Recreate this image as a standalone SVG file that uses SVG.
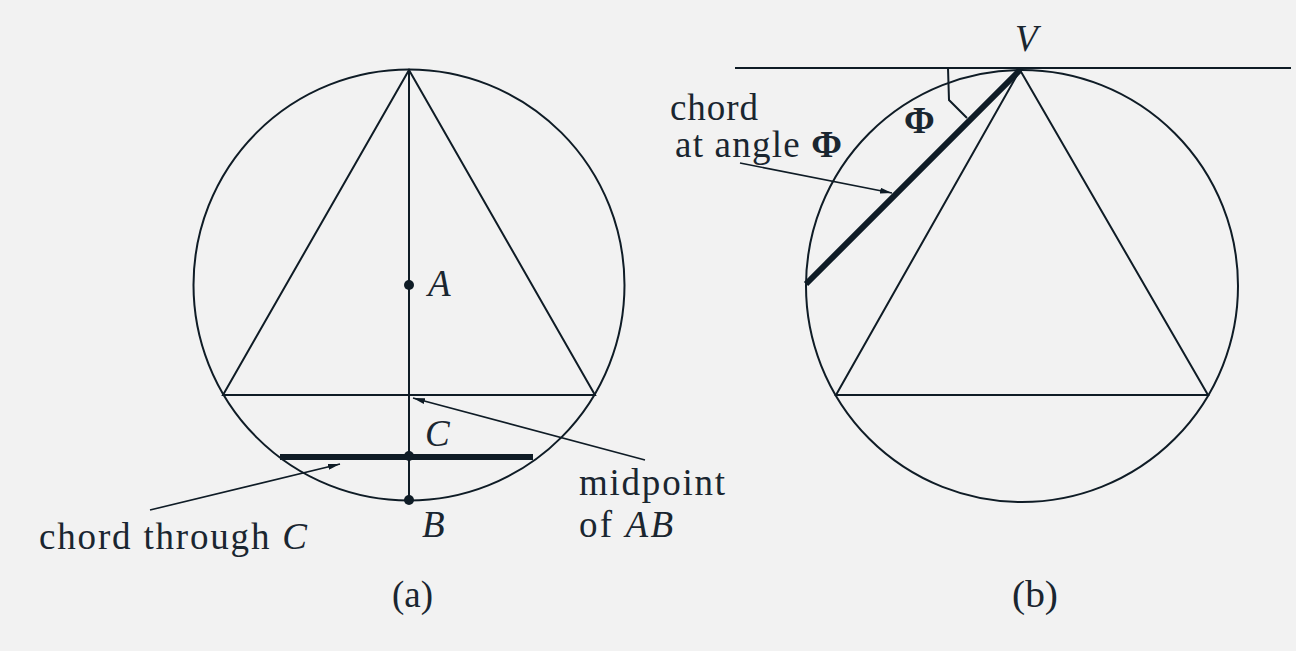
<svg xmlns="http://www.w3.org/2000/svg" width="1296" height="651" viewBox="0 0 1296 651">
<defs>
<style>
.ln{fill:none;stroke:#0f1c26;stroke-width:2}
.thick{fill:none;stroke:#0f1c26;stroke-width:6}
.arr{fill:none;stroke:#0f1c26;stroke-width:1.6}
.dot{fill:#0f1c26}
.tx{font-family:'Liberation Serif','DejaVu Serif',serif;font-size:37px;fill:#1a2630}
.it{font-style:italic}
</style>
<marker id="ah" viewBox="0 0 12 6" refX="12" refY="3" markerWidth="12" markerHeight="6" markerUnits="userSpaceOnUse" orient="auto">
<path d="M0,0 L12,3 L0,6 Z" fill="#0f1c26"/>
</marker>
</defs>
<rect width="1296" height="651" fill="#f2f2f2"/>

<g id="panel-a">
<g id="circle-a"><circle class="ln" cx="409" cy="285" r="215.5"/></g>
<g id="triangle-a"><polygon class="ln" points="409,70 223,395 595,395"/></g>
<g id="axis-a"><line class="ln" x1="409" y1="70" x2="409" y2="500"/></g>
<g id="chord-c"><line class="thick" x1="280" y1="457" x2="533" y2="457"/></g>
<g id="point-A"><circle class="dot" cx="409" cy="285" r="5"/><text class="tx it" font-family="Liberation Serif, DejaVu Serif, serif" x="428" y="296">A</text></g>
<g id="point-C"><circle class="dot" cx="409" cy="456" r="5"/><text class="tx it" font-family="Liberation Serif, DejaVu Serif, serif" x="425" y="446">C</text></g>
<g id="point-B"><circle class="dot" cx="409" cy="500" r="5"/><text class="tx it" font-family="Liberation Serif, DejaVu Serif, serif" x="422" y="537">B</text></g>
<g id="label-chord-c"><text class="tx" font-family="Liberation Serif, DejaVu Serif, serif" x="39" y="549" textLength="268" lengthAdjust="spacing">chord through <tspan class="it">C</tspan></text></g>
<g id="label-midpoint"><text class="tx" font-family="Liberation Serif, DejaVu Serif, serif" x="579" y="495" textLength="146" lengthAdjust="spacing">midpoint</text><text class="tx" font-family="Liberation Serif, DejaVu Serif, serif" x="579" y="537" textLength="94" lengthAdjust="spacing">of <tspan class="it">AB</tspan></text></g>
<g id="caption-a"><text class="tx" font-family="Liberation Serif, DejaVu Serif, serif" x="392" y="607" textLength="41" lengthAdjust="spacingAndGlyphs">(a)</text></g>
</g>

<g id="panel-b">
<g id="tangent"><line class="ln" x1="735" y1="68" x2="1291" y2="68"/></g>
<g id="circle-b"><circle class="ln" cx="1022" cy="286" r="216"/></g>
<g id="triangle-b"><polygon class="ln" points="1020,70 836,395 1208,395"/></g>
<g id="chord-phi"><line class="thick" x1="1020" y1="70" x2="806" y2="284"/></g>
<g id="angle-mark"><polyline class="ln" points="948,68 949,100 967,118"/><text class="tx" font-family="Liberation Serif, DejaVu Serif, serif" x="904" y="133" font-size="34" font-weight="bold">Φ</text></g>
<g id="point-V"><text class="tx it" font-family="Liberation Serif, DejaVu Serif, serif" x="1015" y="51">V</text></g>
<g id="label-chord-phi"><text class="tx" font-family="Liberation Serif, DejaVu Serif, serif" x="670" y="120" textLength="88" lengthAdjust="spacing">chord</text><text class="tx" font-family="Liberation Serif, DejaVu Serif, serif" x="675" y="157" textLength="167" lengthAdjust="spacing">at angle <tspan font-weight="bold">Φ</tspan></text></g>
<g id="caption-b"><text class="tx" font-family="Liberation Serif, DejaVu Serif, serif" x="1012" y="607" textLength="46" lengthAdjust="spacingAndGlyphs">(b)</text></g>
</g>

<g id="connectors">
<line class="arr" x1="645" y1="460" x2="413" y2="398" marker-end="url(#ah)"/>
<line class="arr" x1="150" y1="510" x2="340" y2="464" marker-end="url(#ah)"/>
<line class="arr" x1="740" y1="163" x2="892" y2="193" marker-end="url(#ah)"/>
</g>
</svg>
